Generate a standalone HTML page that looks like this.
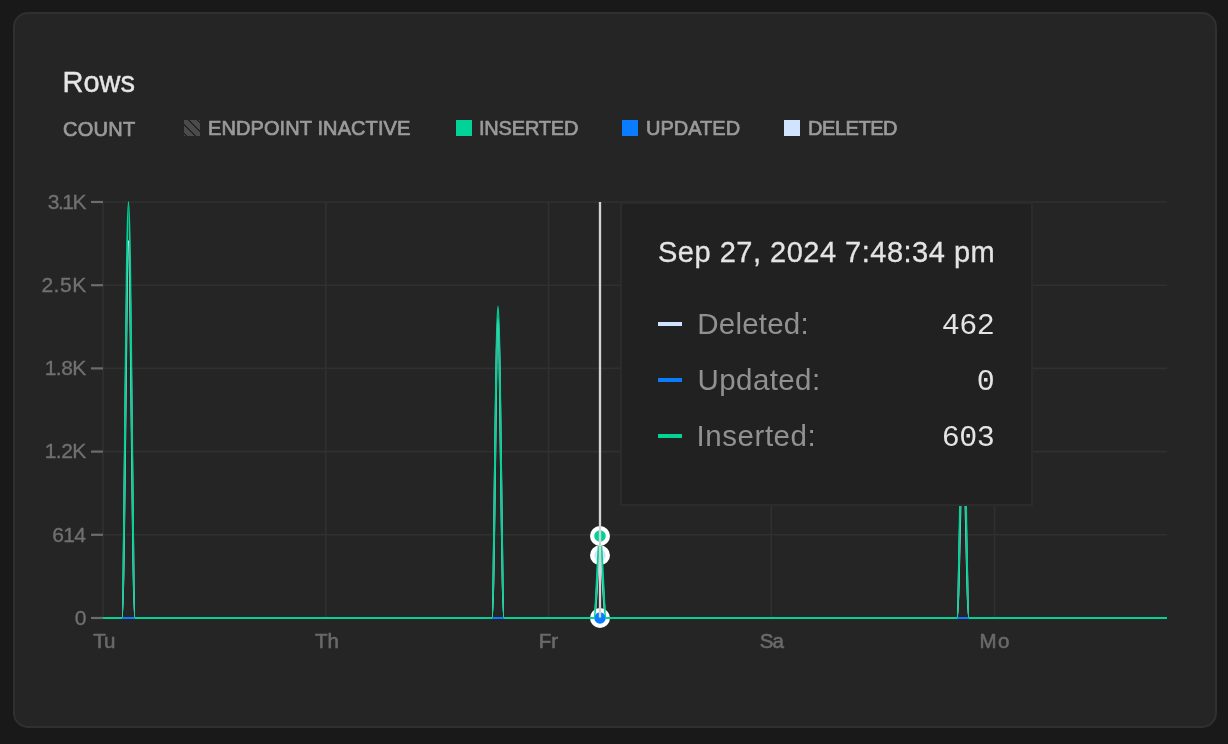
<!DOCTYPE html>
<html>
<head>
<meta charset="utf-8">
<style>
html,body{margin:0;padding:0;}
body{width:1228px;height:744px;background:#191919;overflow:hidden;position:relative;font-family:"Liberation Sans",Arial,sans-serif;}
.card{position:absolute;left:13px;top:12px;width:1200px;height:712px;border:2px solid #303030;border-radius:15px;background:#252525;}
.abs{position:absolute;white-space:nowrap;}
.title{left:62.5px;top:65px;font-size:29px;color:#e6e6e6;line-height:34px;-webkit-text-stroke:0.4px #e6e6e6;}
.lg{top:115.8px;font-size:20px;line-height:24px;color:#9a9a9a;-webkit-text-stroke:0.7px #9a9a9a;}
.sw{position:absolute;top:120px;width:16px;height:16px;}
.hatch{background:repeating-linear-gradient(45deg,#4b4b4b 0 1.15px,#252525 1.15px 2.8px,#4b4b4b 2.8px 6.35px);}
svg{position:absolute;left:0;top:0;}
#root{position:absolute;left:0;top:0;width:1228px;height:744px;will-change:transform;}
.tip{position:absolute;left:620px;top:202px;width:409px;height:300px;background:#212121;border:2px solid #2b2b2b;}
.tt{font-size:29px;color:#e4e4e4;letter-spacing:0.5px;line-height:34px;-webkit-text-stroke:0.3px #e4e4e4;}
.tl{font-size:29.5px;color:#919191;line-height:34px;}
.tv{font-family:"Liberation Mono",monospace;font-size:30px;color:#e4e4e4;letter-spacing:-0.5px;line-height:34px;}
.ts{position:absolute;left:658px;width:24px;height:4px;}
</style>
</head>
<body>
<div id="root">
<div class="card"></div>
<div class="abs title">Rows</div>
<div class="abs lg" style="left:63px;top:116.8px;letter-spacing:0.25px">COUNT</div>
<div class="sw hatch" style="left:184px"></div>
<div class="abs lg" style="left:208px;letter-spacing:0.1px">ENDPOINT INACTIVE</div>
<div class="sw" style="left:456px;background:#00d395"></div>
<div class="abs lg" style="left:479px;letter-spacing:-0.19px">INSERTED</div>
<div class="sw" style="left:622px;background:#0a7cff"></div>
<div class="abs lg" style="left:646px;letter-spacing:0px">UPDATED</div>
<div class="sw" style="left:784px;background:#d1e4ff"></div>
<div class="abs lg" style="left:808px;letter-spacing:-0.45px">DELETED</div>

<svg width="1228" height="744" viewBox="0 0 1228 744">
  <g stroke="#303030" stroke-width="1.6" fill="none">
    <line x1="103" y1="202" x2="1167" y2="202"/>
    <line x1="103" y1="285.2" x2="1167" y2="285.2"/>
    <line x1="103" y1="368.4" x2="1167" y2="368.4"/>
    <line x1="103" y1="451.6" x2="1167" y2="451.6"/>
    <line x1="103" y1="534.8" x2="1167" y2="534.8"/>
    <line x1="103" y1="202" x2="103" y2="618"/>
    <line x1="325.8" y1="202" x2="325.8" y2="618"/>
    <line x1="548.5" y1="202" x2="548.5" y2="618"/>
    <line x1="771.3" y1="202" x2="771.3" y2="618"/>
    <line x1="994.5" y1="202" x2="994.5" y2="618"/>
  </g>
  <g stroke="#6c6c6c" stroke-width="2.2">
    <line x1="91" y1="202" x2="103" y2="202"/>
    <line x1="91" y1="285.2" x2="103" y2="285.2"/>
    <line x1="91" y1="368.4" x2="103" y2="368.4"/>
    <line x1="91" y1="451.6" x2="103" y2="451.6"/>
    <line x1="91" y1="534.8" x2="103" y2="534.8"/>
    <line x1="91" y1="618" x2="103" y2="618"/>
  </g>
  <g fill="#707070" font-family="Liberation Sans" font-size="21" text-anchor="end" stroke="#707070" stroke-width="0.35">
    <text x="85.17" y="208.7" letter-spacing="-1.43">3.1K</text>
    <text x="86.87" y="291.9" letter-spacing="0.57">2.5K</text>
    <text x="85.77" y="375.1" letter-spacing="-0.53">1.8K</text>
    <text x="85.77" y="458.3" letter-spacing="-0.53">1.2K</text>
    <text x="85.35" y="541.5" letter-spacing="-0.65">614</text>
    <text x="86.5" y="624.7">0</text>
  </g>
  <g fill="#6a6a6a" font-family="Liberation Sans" font-size="20.5" text-anchor="middle" stroke="#6a6a6a" stroke-width="0.6">
    <text x="103.9" y="647.9" letter-spacing="-1">Tu</text>
    <text x="327" y="647.9">Th</text>
    <text x="548.5" y="647.9">Fr</text>
    <text x="771.3" y="647.9" letter-spacing="-1">Sa</text>
    <text x="995.3" y="647.9" letter-spacing="1.5">Mo</text>
  </g>
  <!-- series -->
  <g fill="none" stroke-width="2" stroke-linejoin="round">
    <path stroke="#d1e4ff" d="M103,618 L122,618 C124.17,618 126.33,241 128.5,241 C130.67,241 132.83,618 135,618 L492,618 C494.00,618 496.00,319 498,319 C500.00,319 502.00,618 504,618 L594,618 C596.00,618 598.00,555 600,555 C602.00,555 604.00,618 606,618 L957,618 C959.00,618 961.00,430 963,430 C965.00,430 967.00,618 969,618 L1167,618"/>
  </g>
  <circle cx="600" cy="555.3" r="7.9" fill="#d3e5ff" stroke="#fff" stroke-width="4.2"/>
  <line x1="103" y1="618" x2="1167" y2="618" stroke="#0a7cff" stroke-width="2"/>
  <circle cx="600" cy="618" r="7.9" fill="#0a7cff" stroke="#fff" stroke-width="4.2"/>
  <path fill="none" stroke-width="2" stroke-linejoin="round" stroke="#00d395" d="M103,618 L122,618 C124.17,618 126.33,202 128.5,202 C130.67,202 132.83,618 135,618 L492,618 C494.00,618 496.00,306.5 498,306.5 C500.00,306.5 502.00,618 504,618 L594,618 C596.00,618 598.00,536 600,536 C602.00,536 604.00,618 606,618 L957,618 C959.00,618 961.00,400 963,400 C965.00,400 967.00,618 969,618 L1167,618"/>
  <circle cx="600" cy="536" r="7.9" fill="#00d395" stroke="#fff" stroke-width="4.2"/>
  <line x1="600" y1="202" x2="600" y2="617.6" stroke="#d4d4d4" stroke-width="2.3"/>
</svg>

<div class="tip"></div>
<div class="abs tt" style="left:658px;top:235px">Sep 27, 2024 7:48:34 pm</div>
<div class="ts" style="top:322px;background:#d1e4ff"></div>
<div class="abs tl" style="left:697.30px;top:307px;letter-spacing:0.21px">Deleted:</div>
<div class="abs tv" style="right:233.8px;top:309px">462</div>
<div class="ts" style="top:378px;background:#0a7cff"></div>
<div class="abs tl" style="left:697.60px;top:362.5px;letter-spacing:0.40px">Updated:</div>
<div class="abs tv" style="right:233.8px;top:365px">0</div>
<div class="ts" style="top:434px;background:#00d395"></div>
<div class="abs tl" style="left:696.60px;top:419px;letter-spacing:0.54px">Inserted:</div>
<div class="abs tv" style="right:233.8px;top:421px">603</div>
</div>
</body>
</html>
